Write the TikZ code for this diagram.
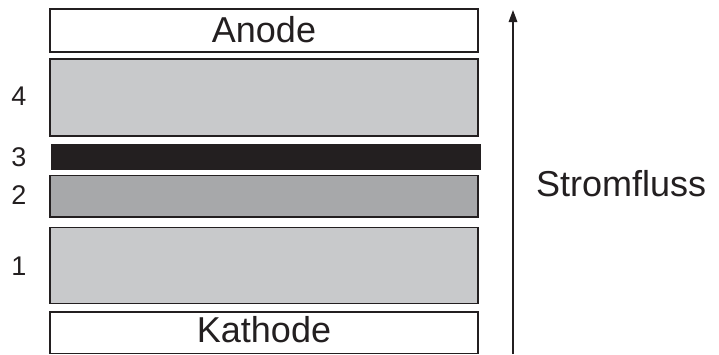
\documentclass[tikz,border=0pt]{standalone}
\usepackage{fontspec}
\setmainfont{Liberation Sans}
\usetikzlibrary{arrows.meta}
\definecolor{inkc}{HTML}{231F20}
\definecolor{layerlight}{HTML}{C8C9CB}
\definecolor{layermid}{HTML}{A7A8AA}
\tikzset{
  layer/.style={draw=inkc, line width=1.5pt, minimum width=428pt, inner sep=0pt, anchor=center},
  electrode/.style={layer, fill=white, font=\fontsize{36}{36}\selectfont, text=inkc, text depth=2pt},
  numlabel/.style={font=\fontsize{27}{27}\selectfont, text=inkc, anchor=center},
}
\begin{document}
\begin{tikzpicture}[x=1pt, y=-1pt]
  \useasboundingbox (0,0) rectangle (719,354);
  \fill[white] (0,0) rectangle (719,354);

  % electrode stack
  \node[electrode, minimum height=43pt, text height=25pt] (anode) at (264,30.5) {Anode};
  \node[layer, fill=layerlight, minimum height=77pt] (l4) at (264,97.5) {};
  \node[draw=inkc, fill=inkc, line width=0.5pt, minimum width=429pt, minimum height=25pt, inner sep=0pt] (l3) at (265.5,157) {};
  \node[layer, fill=layermid, minimum height=41.5pt] (l2) at (264,196) {};
  \node[layer, fill=layerlight, minimum height=76pt] (l1) at (264,265.3) {};
  \node[electrode, minimum height=41.5pt, text height=22pt] (kathode) at (264,332.5) {Kathode};

  % layer numbers
  \node[numlabel] (n4) at (19,96) {4};
  \node[numlabel] (n3) at (19,157) {3};
  \node[numlabel] (n2) at (19,195) {2};
  \node[numlabel] (n1) at (19,266) {1};

  % current direction
  \coordinate (flowbot) at (513,354);
  \coordinate (flowtop) at (513,10);
  \draw[inkc, line width=1.5pt, -{Triangle[length=12pt, width=8.5pt]}] (flowbot) -- (flowtop);
  \node[font=\fontsize{36}{36}\selectfont, text=inkc, anchor=base west, inner sep=0pt] (flow) at (536,196.5) {Stromfluss};
\end{tikzpicture}
\end{document}
